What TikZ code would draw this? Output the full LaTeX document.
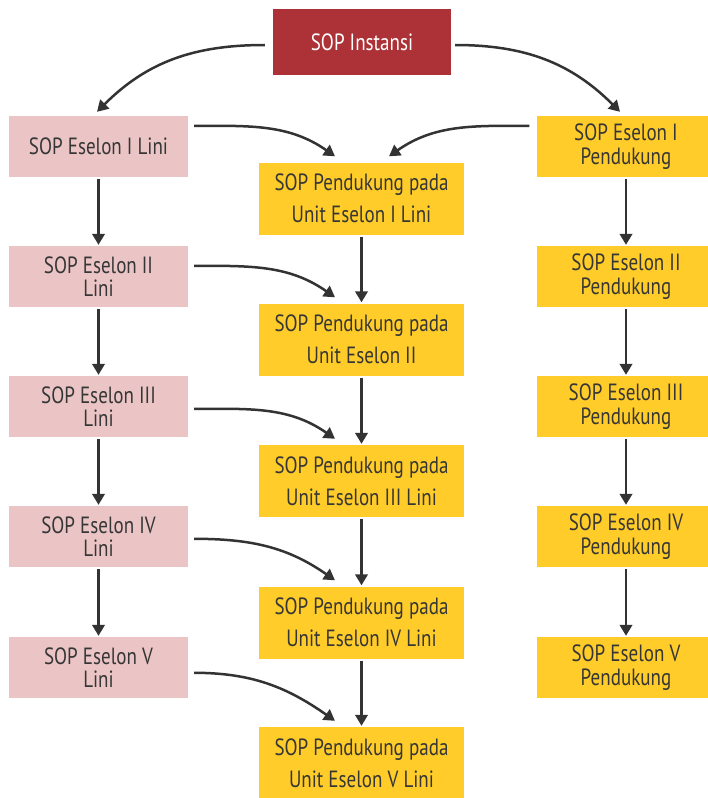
\documentclass[tikz,border=0pt]{standalone}
\usepackage{fontspec}
\setmainfont{PT Sans}[FakeStretch=0.81]
\usetikzlibrary{arrows.meta}
\definecolor{instred}{HTML}{AD3237}
\definecolor{pinkc}{HTML}{EBC5C5}
\definecolor{yel}{HTML}{FFCC29}
\definecolor{txt}{HTML}{363636}
\definecolor{arrc}{HTML}{333333}
\begin{document}
\begin{tikzpicture}[x=1pt,y=1pt,
  box/.style={draw=none, inner sep=0pt, align=center, text=txt, font=\fontsize{23.5}{23.5}\selectfont},
  lini/.style={box, fill=pinkc, minimum width=179pt, minimum height=61pt},
  mid/.style={box, fill=yel, minimum width=205pt, minimum height=72pt, font=\fontsize{23.5}{32}\selectfont},
  pend/.style={box, fill=yel, minimum width=179pt, minimum height=61pt},
  arr/.style={draw=arrc, line width=2.5pt, -{Triangle[length=11pt,width=12.5pt]}}]
\useasboundingbox (0,0) rectangle (707,-798);

\node[box, fill=instred, text=white, minimum width=178pt, minimum height=66pt] (inst) at (362,-42) {SOP Instansi};

\node[lini] (L1) at (98.5,-146.5) {SOP Eselon I Lini};
\node[lini] (L2) at (98.5,-276.5) {SOP Eselon II\\Lini};
\node[lini] (L3) at (98.5,-406.5) {SOP Eselon III\\Lini};
\node[lini] (L4) at (98.5,-536.5) {SOP Eselon IV\\Lini};
\node[lini] (L5) at (98.5,-667.5) {SOP Eselon V\\Lini};

\node[mid] (M1) at (361.5,-198.5) {SOP Pendukung pada\\Unit Eselon I Lini};
\node[mid] (M2) at (361.5,-339.5) {SOP Pendukung pada\\Unit Eselon II};
\node[mid] (M3) at (361.5,-481) {SOP Pendukung pada\\Unit Eselon III Lini};
\node[mid] (M4) at (361.5,-622.5) {SOP Pendukung pada\\Unit Eselon IV Lini};
\node[mid] (M5) at (361.5,-763) {SOP Pendukung pada\\Unit Eselon V Lini};

\node[pend] (R1) at (626,-146.5) {SOP Eselon I\\Pendukung};
\node[pend] (R2) at (626,-276.5) {SOP Eselon II\\Pendukung};
\node[pend] (R3) at (626,-406.5) {SOP Eselon III\\Pendukung};
\node[pend] (R4) at (626,-536.5) {SOP Eselon IV\\Pendukung};
\node[pend] (R5) at (626,-667.5) {SOP Eselon V\\Pendukung};

% from Instansi
\draw[arr] ([xshift=-8pt,yshift=-3pt]inst.west) to[out=180,in=45] ([xshift=-1.5pt,yshift=4pt]L1.north);
\draw[arr] ([xshift=4pt,yshift=-3pt]inst.east) to[out=0,in=135] ([xshift=-6pt,yshift=4pt]R1.north);

% vertical arrows
\foreach \a/\b in {L1/L2,L2/L3,L3/L4,L4/L5,M1/M2,M2/M3,M3/M4,M4/M5,R1/R2,R2/R3,R3/R4,R4/R5}
  \draw[arr] ([yshift=-2pt]\a.south) -- ([yshift=1pt]\b.north);

% lini to middle
\draw[arr] ([xshift=6pt,yshift=-10pt]L1.north east) to[out=0,in=145] ([xshift=-26.5pt,yshift=6pt]M1.north);
\draw[arr] ([xshift=6pt,yshift=-20pt]L2.north east) to[out=0,in=145] ([xshift=-26.5pt,yshift=6pt]M2.north);
\draw[arr] ([xshift=6pt,yshift=-33pt]L3.north east) to[out=0,in=145] ([xshift=-26.5pt,yshift=6pt]M3.north);
\draw[arr] ([xshift=6pt,yshift=-33pt]L4.north east) to[out=0,in=145] ([xshift=-26.5pt,yshift=6pt]M4.north);
\draw[arr] ([xshift=6pt,yshift=-36pt]L5.north east) to[out=0,in=145] ([xshift=-26.5pt,yshift=6pt]M5.north);

% pendukung to middle
\draw[arr] ([xshift=-7pt,yshift=-10pt]R1.north west) to[out=180,in=35] ([xshift=27.5pt,yshift=6pt]M1.north);
\end{tikzpicture}
\end{document}
